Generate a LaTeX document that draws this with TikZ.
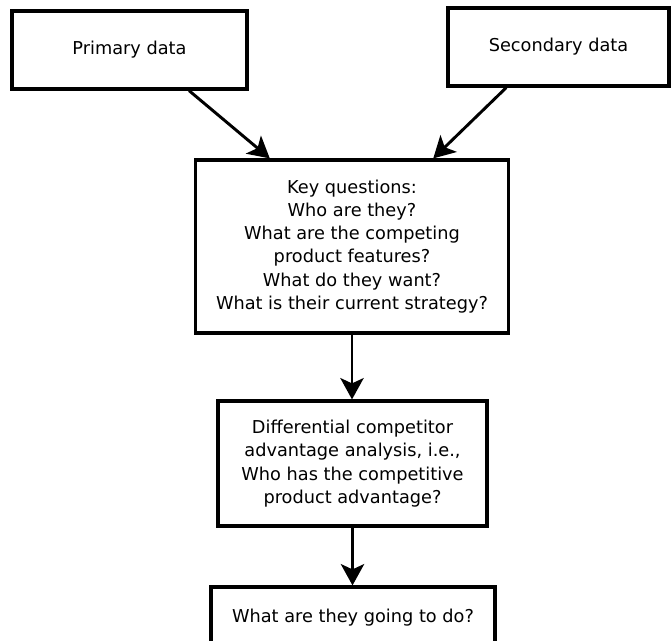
\documentclass[tikz,border=0pt]{standalone}
\usepackage{fontspec}
\setmainfont{DejaVu Sans}
\usetikzlibrary{arrows.meta,calc}
\begin{document}
\begin{tikzpicture}[x=0.75pt,y=-0.75pt,
  box/.style={draw=black, line width=2.4pt, fill=white, align=center,
    inner sep=0pt, font=\fontsize{13.3pt}{17.4pt}\selectfont},
  flow/.style={draw=black, line width=2.2pt,
    -{Stealth[length=16pt,width=17.5pt,inset=4pt]}}]
\useasboundingbox (0,0) rectangle (671,640);
% input boxes
\node[box, minimum width=235*0.75pt, minimum height=78*0.75pt] (prim) at (129.5,50) {Primary data};
\node[box, minimum width=221*0.75pt, minimum height=78*0.75pt] (sec) at (558.5,47) {Secondary data};
% question box
\node[box, minimum width=313*0.75pt, minimum height=173*0.75pt] (key) at (352,246.5)
  {Key questions:\\Who are they?\\What are the competing\\product features?\\What do they want?\\What is their current strategy?};
% analysis box
\node[box, minimum width=269*0.75pt, minimum height=125*0.75pt] (diff) at (352.5,463.5)
  {Differential competitor\\advantage analysis, i.e.,\\Who has the competitive\\product advantage?};
% outcome box
\node[box, minimum width=284*0.75pt, minimum height=62*0.75pt] (out) at (353,618)
  {What are they going to do?};
% connectors
\draw[flow] ($(prim.south west)!0.75!(prim.south east)$) -- ($(key.north west)!0.24!(key.north east)$);
\draw[flow] ($(sec.south west)!0.267!(sec.south east)$) -- ($(key.north west)!0.757!(key.north east)$);
\draw[flow] (key.south) -- (key.south |- diff.north);
\draw[flow] (diff.south) -- (diff.south |- out.north);
\end{tikzpicture}
\end{document}
